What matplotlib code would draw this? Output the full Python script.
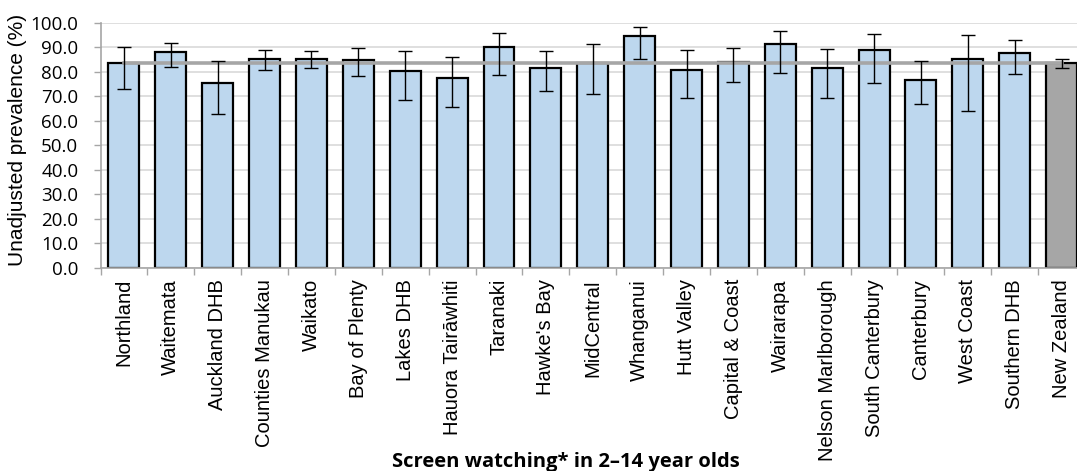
import matplotlib.pyplot as plt
import numpy as np

regions = ['Northland', 'Waitemata', 'Auckland DHB', 'Counties Manukau', 'Waikato',
           'Bay of Plenty', 'Lakes DHB', 'Hauora Tairāwhiti', 'Taranaki', "Hawke's Bay",
           'MidCentral', 'Whanganui', 'Hutt Valley', 'Capital & Coast', 'Wairarapa',
           'Nelson Marlborough', 'South Canterbury', 'Canterbury', 'West Coast',
           'Southern DHB', 'New Zealand']
prevalence = [83.4, 87.8, 75.2, 85.0, 85.0, 84.8, 80.1, 77.4, 90.2, 81.5,
              83.5, 94.6, 80.7, 84.1, 91.4, 81.4, 89.0, 76.7, 85.2, 87.6, 83.4]
ci_low = [72.9, 81.8, 62.7, 80.7, 81.4, 78.2, 68.4, 65.4, 78.8, 72.1,
          70.9, 85.2, 69.1, 75.8, 79.3, 69.4, 75.4, 66.7, 63.9, 79.2, 81.4]
ci_high = [89.9, 91.8, 84.4, 88.6, 88.3, 89.8, 88.2, 85.9, 95.9, 88.2,
           91.3, 98.1, 88.6, 89.7, 96.7, 89.3, 95.5, 84.2, 95.1, 92.8, 85.2]
nz_value = 83.4

W, H = 1077, 471
fig = plt.figure(figsize=(W / 100, H / 100), dpi=100)
ax = fig.add_axes([100.5 / W, 1 - 268 / H, (1085 - 100.5) / W, (268 - 22.5) / H])

x = np.arange(len(regions))
colors = ['#BDD7EE'] * (len(regions) - 1) + ['#A6A6A6']
val = np.array(prevalence)
yerr = [val - np.array(ci_low), np.array(ci_high) - val]

ax.bar(x, val, width=0.66, color=colors, edgecolor='black', linewidth=1.6, zorder=2)
# national average line across all bars
ax.plot([x[0], x[-1]], [nz_value, nz_value], color='#A6A6A6', lw=2.6, zorder=3)
ax.errorbar(x, val, yerr=yerr, fmt='none', ecolor='black', elinewidth=1.0,
            capsize=4.8, capthick=1.0, zorder=4)

ax.set_xlim(-0.5, len(regions) - 0.5)
ax.set_ylim(0, 100)
ax.set_yticks(np.arange(0, 101, 10))
ax.set_yticklabels(['%.1f' % v for v in np.arange(0, 101, 10)],
                   fontsize=13.5, family='Open Sans')
ax.yaxis.grid(True, color='#D9D9D9', lw=1.2, zorder=0)
ax.set_axisbelow(True)

ax.set_xticks(x)
ax.set_xticklabels(regions, rotation=90, fontsize=14.5, family='Liberation Sans')
ax.set_xticks(np.arange(-0.5, len(regions), 1), minor=True)
ax.tick_params(axis='x', which='major', length=0, pad=8)
ax.tick_params(axis='x', which='minor', length=5, color='#A6A6A6', width=1)
ax.tick_params(axis='y', length=5, color='#A6A6A6', width=1, pad=11)

for s in ['top', 'right']:
    ax.spines[s].set_visible(False)
for s in ['left', 'bottom']:
    ax.spines[s].set_color('#A6A6A6')
    ax.spines[s].set_linewidth(1.2)

ax.set_ylabel('Unadjusted prevalence (%)', fontsize=15, family='Liberation Sans',
              va='center')
ax.yaxis.set_label_coords(-83 / (1085 - 100.5), (268 - 140) / 245.5)

fig.text(566 / W, 1 - 467 / H, 'Screen watching* in 2\u201314 year olds',
         ha='center', va='baseline', fontsize=14.5, fontweight='bold', family='Open Sans')

plt.savefig('out.png', dpi=100)
